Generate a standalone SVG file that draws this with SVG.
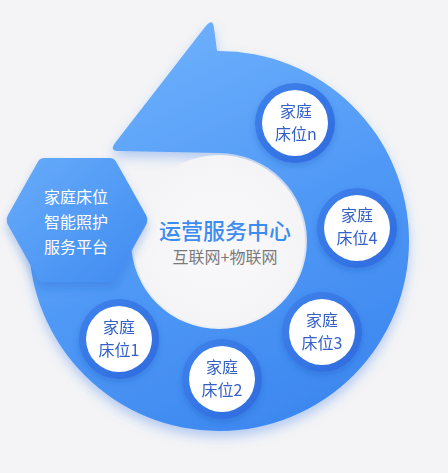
<svg xmlns="http://www.w3.org/2000/svg" width="448" height="473" viewBox="0 0 448 473">
  <style>
    .t { font-family: "Noto Sans CJK SC", "Noto Sans", sans-serif; text-anchor: middle; }
    .node-text { font-size: 16px; fill: #3461c8; }
    .hex-text { font-size: 16px; fill: #ffffff; }
    .ring-b { fill: url(#nodeRing); }
    .ring-w { fill: #ffffff; }
  </style>
  <defs>
    <linearGradient id="ringGrad" gradientUnits="userSpaceOnUse" x1="130" y1="40" x2="320" y2="430">
      <stop offset="0" stop-color="#6db0fc"/>
      <stop offset="0.5" stop-color="#5099f6"/>
      <stop offset="1" stop-color="#3b86ef"/>
    </linearGradient>
    <linearGradient id="hexGrad" x1="0" y1="0" x2="1" y2="1">
      <stop offset="0" stop-color="#68acfa"/>
      <stop offset="1" stop-color="#3f8bf1"/>
    </linearGradient>
    <linearGradient id="nodeRing" x1="0" y1="0" x2="1" y2="1">
      <stop offset="0" stop-color="#3f82ea"/>
      <stop offset="1" stop-color="#2d6be0"/>
    </linearGradient>
    <radialGradient id="holeGrad" cx="0.5" cy="0.5" r="0.5">
      <stop offset="0" stop-color="#f9f9fb"/>
      <stop offset="0.7" stop-color="#f6f6f8"/>
      <stop offset="1" stop-color="#f4f4f6"/>
    </radialGradient>
    <filter id="ringShadow" x="-20%" y="-20%" width="140%" height="140%">
      <feGaussianBlur in="SourceAlpha" stdDeviation="6"/>
      <feOffset dx="0" dy="6" result="b"/>
      <feFlood flood-color="#3a7de8" flood-opacity="0.35"/>
      <feComposite in2="b" operator="in"/>
      <feMerge><feMergeNode/><feMergeNode in="SourceGraphic"/></feMerge>
    </filter>
    <filter id="hexShadow" x="-30%" y="-30%" width="160%" height="160%">
      <feGaussianBlur in="SourceAlpha" stdDeviation="5"/>
      <feOffset dx="0" dy="6" result="b"/>
      <feFlood flood-color="#1f5fc8" flood-opacity="0.3"/>
      <feComposite in2="b" operator="in"/>
      <feMerge><feMergeNode/><feMergeNode in="SourceGraphic"/></feMerge>
    </filter>
    <filter id="nodeShadow" x="-30%" y="-30%" width="160%" height="160%">
      <feGaussianBlur in="SourceAlpha" stdDeviation="3"/>
      <feOffset dx="0" dy="3" result="b"/>
      <feFlood flood-color="#1c50b8" flood-opacity="0.3"/>
      <feComposite in2="b" operator="in"/>
      <feMerge><feMergeNode/><feMergeNode in="SourceGraphic"/></feMerge>
    </filter>
  </defs>

  <rect x="0" y="0" width="448" height="473" fill="#f4f4f6"/>

  <g id="connectors">
    <path filter="url(#ringShadow)" fill="url(#ringGrad)" d="M 217 51 A 190 190 0 1 1 29 241 L 131 241 A 88 88 0 1 0 219 153 L 119 151 Q 109 151 115 143 L 205 27 Q 213 17 214 28 Z"/>
    <circle cx="219" cy="241" r="86" fill="url(#holeGrad)"/>
  </g>

  <g id="hub">
    <g filter="url(#hexShadow)">
      <path fill="url(#hexGrad)" d="M 44 158 L 110 158 Q 114 158 116 161.5 L 146 215 Q 148.5 220 146 225 L 116 278.5 Q 114 282 110 282 L 44 282 Q 40 282 38 278.5 L 8 225 Q 5.5 220 8 215 L 38 161.5 Q 40 158 44 158 Z"/>
    </g>
    <text class="t hex-text" x="76" y="203">家庭床位</text>
    <text class="t hex-text" x="76" y="228">智能照护</text>
    <text class="t hex-text" x="76" y="253">服务平台</text>
  </g>

  <g id="center">
    <text class="t" x="225" y="239" font-size="22" font-weight="500" fill="#3d8cf0">运营服务中心</text>
    <text class="t" x="225" y="263" font-size="16" fill="#7a7a7a">互联网+物联网</text>
  </g>

  <g id="node-n" filter="url(#nodeShadow)">
    <circle class="ring-b" cx="295" cy="123" r="40"/>
    <circle class="ring-w" cx="295" cy="123" r="33"/>
    <text class="t node-text" x="296" y="117">家庭</text>
    <text class="t node-text" x="296" y="140">床位n</text>
  </g>
  <g id="node-4" filter="url(#nodeShadow)">
    <circle class="ring-b" cx="357" cy="228" r="40"/>
    <circle class="ring-w" cx="357" cy="228" r="33"/>
    <text class="t node-text" x="357" y="221">家庭</text>
    <text class="t node-text" x="357" y="244">床位4</text>
  </g>
  <g id="node-3" filter="url(#nodeShadow)">
    <circle class="ring-b" cx="322" cy="332" r="40"/>
    <circle class="ring-w" cx="322" cy="332" r="33"/>
    <text class="t node-text" x="322" y="326">家庭</text>
    <text class="t node-text" x="322" y="349">床位3</text>
  </g>
  <g id="node-2" filter="url(#nodeShadow)">
    <circle class="ring-b" cx="222" cy="379" r="40"/>
    <circle class="ring-w" cx="222" cy="379" r="33"/>
    <text class="t node-text" x="222" y="373">家庭</text>
    <text class="t node-text" x="222" y="396">床位2</text>
  </g>
  <g id="node-1" filter="url(#nodeShadow)">
    <circle class="ring-b" cx="119" cy="339" r="40"/>
    <circle class="ring-w" cx="119" cy="339" r="33"/>
    <text class="t node-text" x="119" y="333">家庭</text>
    <text class="t node-text" x="119" y="356">床位1</text>
  </g>
</svg>
